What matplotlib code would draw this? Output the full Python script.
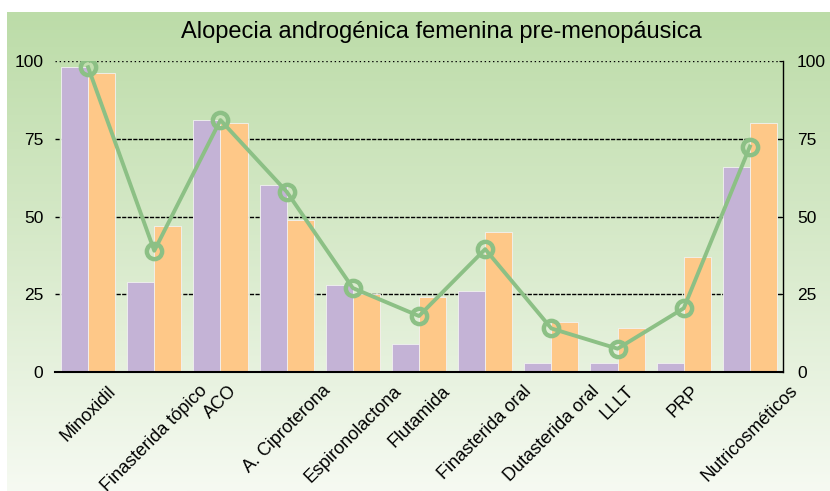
import numpy as np
import matplotlib
matplotlib.use("Agg")
import matplotlib.pyplot as plt
from matplotlib.colors import LinearSegmentedColormap

plt.rcParams['font.family'] = ['Liberation Sans', 'DejaVu Sans']

# --- Data ---
categories = ["Minoxidil", "Finasterida tópico", "ACO", "A. Ciproterona",
              "Espironolactona", "Flutamida", "Finasterida oral",
              "Dutasterida oral", "LLLT", "PRP", "Nutricosméticos"]
serie_a = [98, 29, 81, 60, 28, 9, 26, 3, 3, 3, 66]        # purple
serie_b = [96, 47, 80, 49, 25, 24, 45, 16, 14, 37, 80]    # orange
linea = [98, 39, 81, 58, 27, 18, 39.5, 14, 7.5, 20.5, 72.5]
yticks = [0, 25, 50, 75, 100]

PURPLE = "#c4b3d6"
ORANGE = "#fec888"
GREEN = "#8cc085"

fig = plt.figure(figsize=(8.3, 4.91), dpi=100)

# --- gradient background ---
bg = fig.add_axes([7 / 830, 0, 1 - 7 / 830, 1 - 12 / 491])
cmap = LinearSegmentedColormap.from_list("bg", ["#bcdca8", "#d8eacb", "#f6faf2"])
grad = np.linspace(0, 1, 256).reshape(-1, 1)
bg.imshow(grad, aspect="auto", cmap=cmap, extent=[0, 1, 0, 1])
bg.axis("off")
bg.set_zorder(0)

ax = fig.add_axes([55 / 830, 1 - 372 / 491, (783 - 55) / 830, (372 - 61) / 491])
ax.set_zorder(1)
ax.patch.set_alpha(0)

x = np.arange(len(categories))
w = 0.41
ax.bar(x - 0.205, serie_a, w, color=PURPLE, edgecolor="#f2f2f2", linewidth=0.6, zorder=2)
ax.bar(x + 0.205, serie_b, w, color=ORANGE, edgecolor="#f2f2f2", linewidth=0.6, zorder=2)
ax.plot(x, linea, color=GREEN, linewidth=2.8, marker="o", markersize=11,
        markerfacecolor="none", markeredgewidth=3.2, zorder=3)

# grid lines
for v in [25, 50, 75]:
    ax.axhline(v, color="black", linewidth=1, linestyle=(0, (3, 1)), zorder=1)
ax.axhline(100, color="black", linewidth=1, linestyle=(0, (1, 2)), zorder=1)

ax.set_xlim(-0.5, len(categories) - 0.5)
ax.set_ylim(0, 100)
ax.set_yticks(yticks)
ax.tick_params(axis="y", length=0, pad=8.5, labelsize=12.5)
ax.set_xticks(x)
ax.set_xticklabels(categories, rotation=45, fontsize=13)
ax.tick_params(axis="x", length=0, pad=7.5)

ax.spines["top"].set_visible(False)
ax.spines["left"].set_visible(False)
ax.spines["bottom"].set_linewidth(1.5)
ax.spines["right"].set_linewidth(1)

# right axis
ax2 = ax.twinx()
ax2.set_ylim(0, 100)
ax2.set_yticks(yticks)
ax2.tick_params(axis="y", direction="in", length=3, pad=10, labelsize=12.5)
for s in ["top", "left", "bottom", "right"]:
    ax2.spines[s].set_visible(False)

fig.text(0.532, 1 - 32 / 491, "Alopecia androgénica femenina pre-menopáusica",
         ha="center", va="center", fontsize=17)

fig.savefig("out.png", dpi=100)
